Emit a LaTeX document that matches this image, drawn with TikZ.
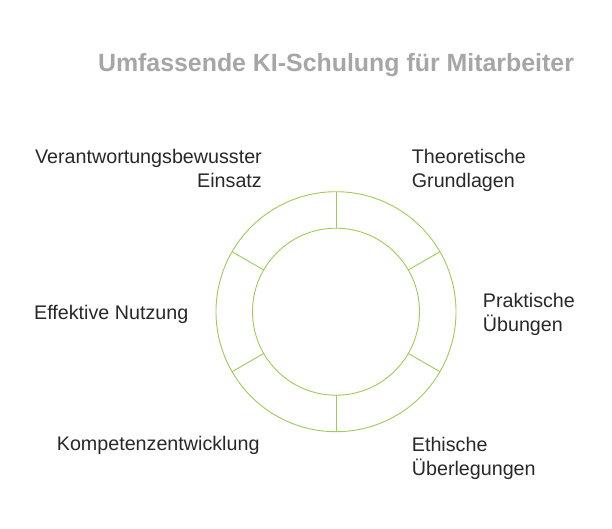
\documentclass[tikz,border=0pt]{standalone}
\usepackage{fontspec}
\setmainfont{Liberation Sans}
\usetikzlibrary{positioning,calc}
\definecolor{ringgreen}{RGB}{158,202,88}
\definecolor{labelgray}{RGB}{40,40,40}
\definecolor{titlegray}{RGB}{166,166,166}
\begin{document}
\begin{tikzpicture}[x=1pt,y=-1pt]
            \tikzset{
                ring/.style={draw=ringgreen,line width=0.9pt},
                lbl/.style={inner sep=0pt,text=labelgray,font=\fontsize{19.7}{24}\selectfont},}
            \useasboundingbox (0,0) rectangle (612,528);
            \coordinate (c) at (336,311.7);
            \node (title) [inner sep=0pt,anchor=base,text=titlegray,font=\bfseries\fontsize{24.9}{30}\selectfont] at (336,71) {Umfassende KI-Schulung für Mitarbeiter};
            \draw [ring] (c) circle (120) (c) circle (83.5);
            \foreach \a in {90,30,-30,-90,-150,150}
                \draw [ring] ($(c)+(\a:83.5)$) -- ($(c)+(\a:120)$);
            % labels round the ring (base = last line)
            \node (verantwortung) [lbl,anchor=base east,align=right] at (262,187) {Verantwortungsbewusster\\Einsatz};
            \node (theorie) [lbl,anchor=base west,align=left] at (411.7,187) {Theoretische\\Grundlagen};
            \node (praxis) [lbl,anchor=base west,align=left] at (482.7,331) {Praktische\\Übungen};
            \node (nutzung) [lbl,anchor=base west] at (34,319.3) {Effektive Nutzung};
            \node (kompetenz) [lbl,anchor=base west] at (56.7,450.7) {Kompetenzentwicklung};
            \node (ethik) [lbl,anchor=base west,align=left] at (411.7,475) {Ethische\\Überlegungen};
        \end{tikzpicture}
\end{document}
